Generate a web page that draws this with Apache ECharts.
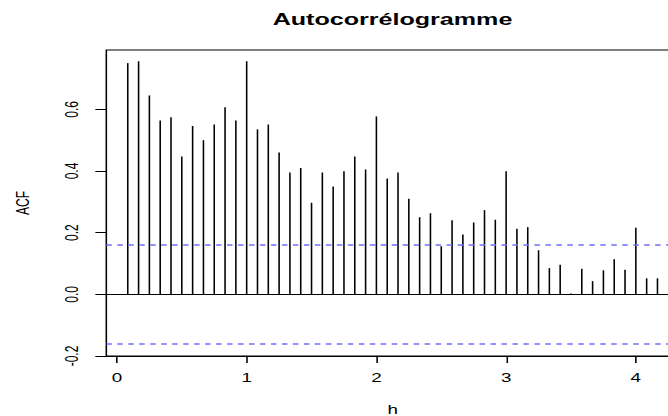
<!DOCTYPE html>
<html>
<head>
<meta charset="utf-8">
<title>Autocorrélogramme</title>
<script src="https://cdn.jsdelivr.net/npm/echarts@6/dist/echarts.min.js"></script>
<style>
  html, body { margin: 0; padding: 0; width: 668px; height: 416px; overflow: hidden; background: #fff; }
  /* The chart is laid out on a narrower surface and widened horizontally,
     like an R graphics device stretched to a wide frame. */
  #chart { width: 426px; height: 416px; transform: scaleX(1.5681); transform-origin: 0 0; }
</style>
</head>
<body>
<div id="chart"></div>
<script>
// Lags in months and series frequency (h = lag / frequency, in years)
const lagMonths = [1, 2, 3, 4, 5, 6, 7, 8, 9, 10, 11, 12, 13, 14, 15, 16, 17, 18, 19, 20,
                   21, 22, 23, 24, 25, 26, 27, 28, 29, 30, 31, 32, 33, 34, 35, 36, 37, 38, 39, 40,
                   41, 42, 43, 44, 45, 46, 47, 48, 49, 50];
const frequency = 12;

// Sample autocorrelation at each lag
const acfValues = [0.750, 0.756, 0.645, 0.564, 0.574, 0.447, 0.546, 0.500, 0.551, 0.607,
                   0.564, 0.756, 0.535, 0.551, 0.460, 0.395, 0.410, 0.297, 0.395, 0.350,
                   0.399, 0.447, 0.405, 0.577, 0.376, 0.395, 0.310, 0.250, 0.263, 0.156,
                   0.240, 0.194, 0.233, 0.273, 0.242, 0.399, 0.213, 0.218, 0.143, 0.085,
                   0.096, 0.003, 0.083, 0.043, 0.078, 0.114, 0.080, 0.216, 0.052, 0.052];

// 95% white-noise bounds
const confLimit = 0.1625;

// Axis limits and tick positions
const yMin = -0.2;
const yMax = 0.7925;
const xTicks = [0, 1, 2, 3, 4];
const yTicks = [-0.2, 0.0, 0.2, 0.4, 0.6];

const FONT = '"Liberation Sans", Arial, Helvetica, sans-serif';

const barData = lagMonths.map((m, i) => [m / frequency, acfValues[i]]);

const chart = echarts.init(document.getElementById('chart'), null, { renderer: 'svg' });

chart.setOption({
  animation: false,
  backgroundColor: '#fff',
  title: {
    text: 'Autocorrélogramme',
    left: 250.3,
    top: 11,
    padding: 0,
    textAlign: 'center',
    textStyle: { fontFamily: FONT, fontSize: 16, fontWeight: 'bold', color: '#000' }
  },
  grid: {
    show: true,
    left: 67.8,
    top: 50,
    width: 365.4,
    height: 306,
    outerBoundsMode: 'none',
    containLabel: false,
    borderColor: '#000',
    borderWidth: 1,
    backgroundColor: 'transparent'
  },
  xAxis: {
    type: 'value',
    min: -0.082,
    max: 4.335,
    name: 'h',
    nameLocation: 'middle',
    nameGap: 48,
    nameTextStyle: { fontFamily: FONT, fontSize: 12, color: '#000' },
    axisLine: { show: true, onZero: false, lineStyle: { color: '#000', width: 1 } },
    splitLine: { show: false },
    axisTick: {
      show: true, inside: false, length: 7,
      customValues: xTicks,
      lineStyle: { color: '#000', width: 1 }
    },
    axisLabel: {
      customValues: xTicks,
      margin: 16,
      fontFamily: FONT, fontSize: 12, color: '#000',
      formatter: v => String(v)
    }
  },
  yAxis: {
    type: 'value',
    min: yMin,
    max: yMax,
    name: 'ACF',
    nameLocation: 'middle',
    nameRotate: 90,
    nameGap: 47.7,
    nameTextStyle: { fontFamily: FONT, fontSize: 12, color: '#000' },
    axisLine: { show: false, onZero: false },
    splitLine: { show: false },
    axisTick: {
      show: true, inside: false, length: 7,
      customValues: yTicks,
      lineStyle: { color: '#000', width: 1 }
    },
    axisLabel: {
      customValues: yTicks,
      rotate: 90,
      margin: 16,
      fontFamily: FONT, fontSize: 12, color: '#000',
      formatter: v => Number(v).toFixed(1)
    }
  },
  series: [{
    type: 'bar',
    data: barData,
    barWidth: 1,
    clip: false,
    itemStyle: { color: '#000' },
    silent: true,
    markLine: {
      silent: true,
      symbol: 'none',
      label: { show: false },
      data: [
        // lower edge of the plot frame
        { yAxis: yMin, lineStyle: { color: '#000', type: 'solid', width: 1 } },
        // zero reference line
        { yAxis: 0, lineStyle: { color: '#000', type: 'solid', width: 1 } },
        // significance bounds
        { yAxis: confLimit, lineStyle: { color: '#6d6dff', type: [3.5, 3.5], width: 1.6 } },
        { yAxis: -confLimit, lineStyle: { color: '#6d6dff', type: [3.5, 3.5], width: 1.6 } }
      ]
    }
  }]
});
</script>
</body>
</html>
